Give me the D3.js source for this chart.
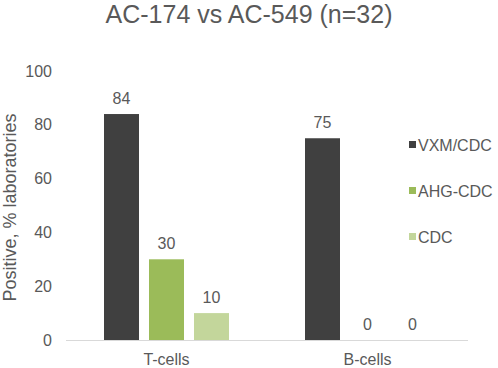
<!DOCTYPE html>
<html>
<head>
<meta charset="utf-8">
<script src="https://cdn.jsdelivr.net/npm/d3@7"></script>
<style>
  html, body { margin: 0; padding: 0; background: #fff; }
  svg text { font-family: "Liberation Sans", Arial, sans-serif; fill: #595959; }
</style>
</head>
<body>
<svg id="chart"></svg>
<script>
// data
const categories = ["T-cells", "B-cells"];
const seriesNames = ["VXM/CDC", "AHG-CDC", "CDC"];
const vxmCdc = [84, 75];
const ahgCdc = [30, 0];
const cdc = [10, 0];
const yTicks = [0, 20, 40, 60, 80, 100];
const titleText = "AC-174 vs AC-549 (n=32)";
const yTitle = "Positive, % laboratories";

const seriesValues = [vxmCdc, ahgCdc, cdc];
const seriesColors = ["#404040", "#9bbb59", "#c3d69b"];

const width = 498, height = 368;
const plotLeft = 66, plotRight = 468, plotTop = 71, plotBottom = 340;

const svg = d3.select("#chart")
    .attr("width", width)
    .attr("height", height);

const x = d3.scaleBand().domain(categories).range([plotLeft, plotRight]);
const y = d3.scaleLinear().domain([0, 100]).range([plotBottom, plotTop]);
const barW = 35, barGap = 10;
const offset = i => (i - 1) * (barW + barGap) - barW / 2;

// title
svg.append("text")
    .attr("x", 249)
    .attr("y", 23)
    .attr("text-anchor", "middle")
    .attr("font-size", 25)
    .text(titleText);

// y tick labels (no gridlines)
svg.append("g").selectAll("text")
    .data(yTicks)
    .join("text")
    .attr("x", 52)
    .attr("y", d => y(d))
    .attr("dy", "0.35em")
    .attr("text-anchor", "end")
    .attr("font-size", 16)
    .text(d => d);

// y axis title
svg.append("text")
    .attr("transform", `translate(16,${(plotTop + plotBottom) / 2 + 2}) rotate(-90)`)
    .attr("text-anchor", "middle")
    .attr("font-size", 18)
    .text(yTitle);

// bars
seriesValues.forEach((vals, i) => {
    const g = svg.append("g");
    g.selectAll("rect")
        .data(vals)
        .join("rect")
        .attr("x", (d, j) => x(categories[j]) + x.bandwidth() / 2 + offset(i))
        .attr("y", d => y(d))
        .attr("width", barW)
        .attr("height", d => y(0) - y(d))
        .attr("fill", seriesColors[i]);
    g.selectAll("text")
        .data(vals)
        .join("text")
        .attr("x", (d, j) => x(categories[j]) + x.bandwidth() / 2 + offset(i) + barW / 2)
        .attr("y", d => y(d) - 10)
        .attr("text-anchor", "middle")
        .attr("font-size", 16)
        .text(d => d);
});

// x axis line
svg.append("line")
    .attr("x1", plotLeft).attr("x2", plotRight)
    .attr("y1", y(0) + 0.5).attr("y2", y(0) + 0.5)
    .attr("stroke", "#d9d9d9")
    .attr("stroke-width", 1);

// category labels
svg.append("g").selectAll("text")
    .data(categories)
    .join("text")
    .attr("x", d => x(d) + x.bandwidth() / 2)
    .attr("y", 365)
    .attr("text-anchor", "middle")
    .attr("font-size", 16)
    .text(d => d);

// legend
const legend = svg.append("g").selectAll("g")
    .data(seriesNames)
    .join("g")
    .attr("transform", (d, i) => `translate(409,${145 + i * 46})`);
legend.append("rect")
    .attr("x", 0).attr("y", -4)
    .attr("width", 7).attr("height", 7)
    .attr("fill", (d, i) => seriesColors[i]);
legend.append("text")
    .attr("x", 9)
    .attr("dy", "0.35em")
    .attr("font-size", 16)
    .text(d => d);
</script>
</body>
</html>
